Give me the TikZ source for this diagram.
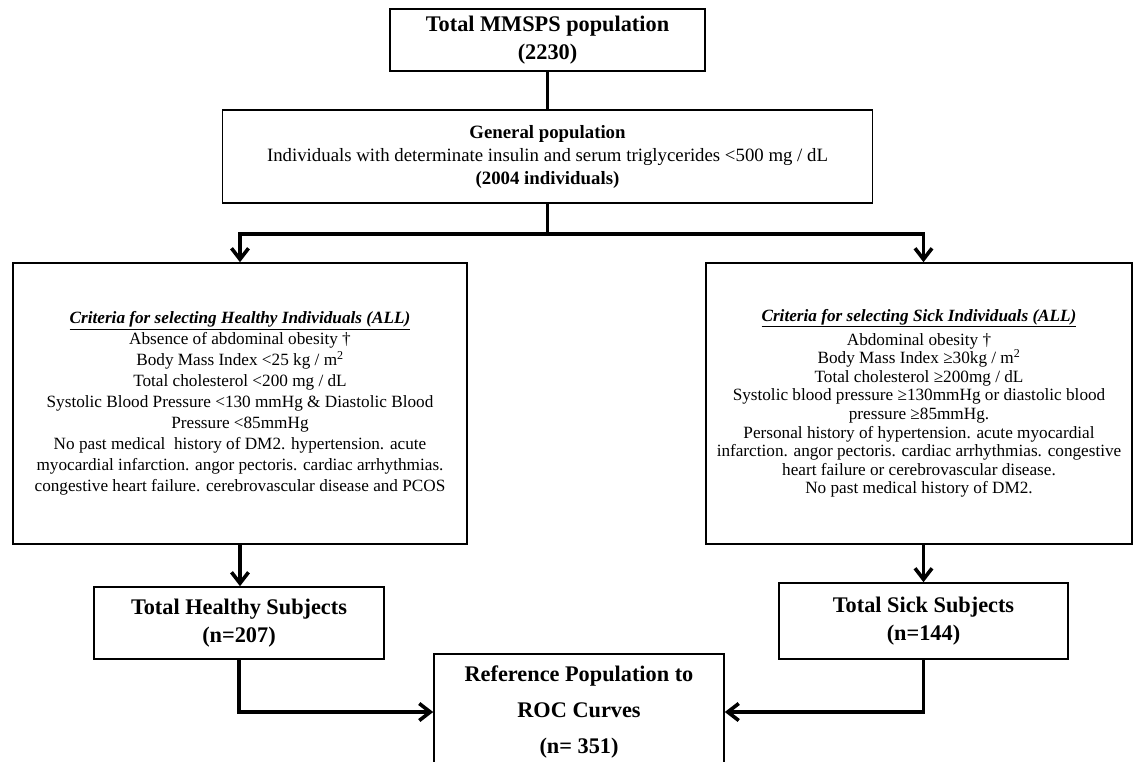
\documentclass[tikz,border=0pt]{standalone}
\usepackage{fontspec}
\setmainfont{Liberation Serif}
\usepackage{tikz}
\usetikzlibrary{arrows.meta}

\begin{document}
\begin{tikzpicture}[x=1pt,y=-1pt,
    box/.style={draw,line width=1.6pt,inner sep=0pt,align=center},
    bigtext/.style={font=\fontsize{22.3}{28}\selectfont\bfseries},
    link/.style={line width=3.6pt},
    >={Straight Barb[length=11pt,width=17pt]}]
    \clip (0,0) rectangle (1134,761);
    % boxes
    \node [box,bigtext,minimum width=315pt,minimum height=62pt] (total) at (547.5,40)
      {Total MMSPS population\\(2230)};
    \node [box,font=\fontsize{18.8}{23}\selectfont,minimum width=650pt,minimum height=93pt] (general) at (547.5,156.5)
      {\textbf{General population}\\
       Individuals with determinate insulin and serum triglycerides <500 mg / dL\\
       \textbf{(2004 individuals)}};
    \node [box,font=\fontsize{17.2}{21}\selectfont,minimum width=454pt,minimum height=281pt] (healthycrit) at (240,403.5)
      {\underline{\textbf{\textit{Criteria for selecting Healthy Individuals (ALL)}}}\\
       Absence of abdominal obesity †\\
       Body Mass Index <25 kg / m\textsuperscript{2}\\
       Total cholesterol <200 mg / dL\\
       Systolic Blood Pressure <130 mmHg \& Diastolic Blood\\
       Pressure <85mmHg\\
       No past medical \ history of DM2. hypertension. acute\\
       myocardial infarction. angor pectoris. cardiac arrhythmias.\\
       congestive heart failure. cerebrovascular disease and PCOS};
    \node [box,font=\fontsize{17.2}{18.6}\selectfont,minimum width=426pt,minimum height=281pt] (sickcrit) at (919,403.5)
      {\underline{\textbf{\textit{Criteria for selecting Sick Individuals (ALL)}}}\\[5pt]
       Abdominal obesity †\\
       Body Mass Index ≥30kg / m\textsuperscript{2}\\
       Total cholesterol ≥200mg / dL\\
       Systolic blood pressure ≥130mmHg or diastolic blood\\
       pressure ≥85mmHg.\\
       Personal history of hypertension. acute myocardial\\
       infarction. angor pectoris. cardiac arrhythmias. congestive\\
       heart failure or cerebrovascular disease.\\
       No past medical history of DM2.};
    \node [box,bigtext,minimum width=290pt,minimum height=72pt] (healthy) at (239,623)
      {Total Healthy Subjects\\(n=207)};
    \node [box,bigtext,minimum width=289pt,minimum height=76pt] (sick) at (923.5,621)
      {Total Sick Subjects\\(n=144)};
    \node [box,font=\fontsize{22.3}{36}\selectfont\bfseries,minimum width=290pt,minimum height=116pt] (refpop) at (579,712)
      {Reference Population to\\ROC Curves\\(n= 351)};
    % connectors
    \coordinate (split) at (547.5,234);
    \draw [line width=2.6pt] (total) -- (general);
    \draw [link] (general) -- (split);
    \draw [link,->] (split) -| (healthycrit.north);
    \draw [link,->] (split) -| (sickcrit.north -| sick.north);
    \draw [link,->] (healthycrit.south) -- (healthycrit.south |- healthy.north);
    \draw [link,->] (sickcrit.south -| sick.north) -- (sick.north);
    \draw [link,->] (healthy.south) |- (refpop);
    \draw [link,->] (sick.south) |- (refpop);
\end{tikzpicture}
\end{document}
